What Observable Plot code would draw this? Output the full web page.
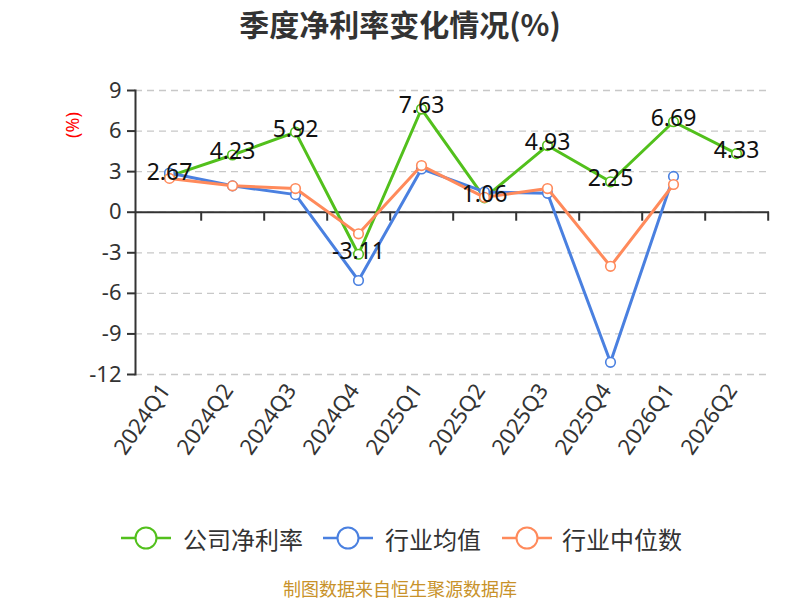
<!DOCTYPE html>
<html>
<head>
<meta charset="utf-8">
<script src="https://cdn.jsdelivr.net/npm/d3@7"></script>
<script src="https://cdn.jsdelivr.net/npm/@observablehq/plot@0.6"></script>
<style>
  body { margin: 0; background: #fff; }
  #wrap { position: relative; width: 800px; height: 600px; overflow: hidden;
          font-family: "Noto Sans", "Noto Sans CJK SC", sans-serif; }
  #title { position: absolute; top: 3px; left: 0; width: 800px; height: 40px; line-height: 40px; text-align: center;
           font-size: 30px; font-weight: bold; color: #333; font-family: "Noto Sans CJK SC", sans-serif; }
  #chart { position: absolute; top: 50px; left: 0; }
  #ylab { position: absolute; left: 52px; top: 114px; width: 40px; height: 22px; line-height: 22px; text-align: center;
          transform: rotate(-90deg); color: red; font-size: 18px; }
  #legend { position: absolute; top: 520px; left: 0; width: 800px; height: 36px; }
  #footer { position: absolute; top: 577px; left: 0; width: 800px; height: 22px; line-height: 22px; text-align: center;
            font-size: 18px; color: #c8922a; font-family: "Noto Sans CJK SC", sans-serif; }
</style>
</head>
<body>
<div id="wrap">
  <div id="title">季度净利率变化情况(%)</div>
  <div id="chart"></div>
  <div id="ylab">(%)</div>
  <div id="legend"></div>
  <div id="footer">制图数据来自恒生聚源数据库</div>
</div>
<script>
const quarters = ["2024Q1","2024Q2","2024Q3","2024Q4","2025Q1","2025Q2","2025Q3","2025Q4","2026Q1","2026Q2"];
const companyRate = [2.67, 4.23, 5.92, -3.11, 7.63, 1.06, 4.93, 2.25, 6.69, 4.33];
const industryAvg = [2.9, 1.95, 1.3, -5.05, 3.2, 1.5, 1.4, -11.1, 2.65, null];
const industryMedian = [2.5, 1.95, 1.75, -1.6, 3.45, 1.1, 1.75, -4.0, 2.05, null];
const yTicks = [-12, -9, -6, -3, 0, 3, 6, 9];
const seriesNames = ["公司净利率", "行业均值", "行业中位数"];
const seriesColors = ["#52c01c", "#4a80e0", "#ff8a5b"];

const toRows = (vals, name) => quarters.map((q, i) => ({q, v: vals[i], s: name}));
const rowsC = toRows(companyRate, seriesNames[0]);
const rowsA = toRows(industryAvg, seriesNames[1]).filter(d => d.v != null);
const rowsM = toRows(industryMedian, seriesNames[2]).filter(d => d.v != null);

const W = 800, H = 450, mL = 135, mR = 31, mT = 40, mB = 126;
const step = (W - mL - mR) / quarters.length;
const font = "Noto Sans, Noto Sans CJK SC, sans-serif";

const lineDot = (rows, color) => [
  Plot.line(rows, {x: "q", y: "v", stroke: color, strokeWidth: 3}),
  Plot.dot(rows, {x: "q", y: "v", r: 4.8, fill: "white", stroke: color, strokeWidth: 1.6})
];

const chart = Plot.plot({
  width: W, height: H,
  marginLeft: mL, marginRight: mR, marginTop: mT, marginBottom: mB,
  style: {fontFamily: font, background: "transparent", overflow: "visible"},
  x: {type: "point", domain: quarters, padding: 0.5, align: 0.5},
  y: {domain: [-12, 9]},
  marks: [
    Plot.gridY(yTicks, {stroke: "#c8c8c8", strokeOpacity: 1, strokeDasharray: "7,5", strokeWidth: 1.3}),
    Plot.axisY(yTicks, {tickSize: 8, tickPadding: 6, fontSize: 22, fill: "#333", stroke: "#333", strokeWidth: 2, label: null, tickFormat: d => String(d)}),
    Plot.axisX({anchor: "bottom", tickSize: 0, tickPadding: 12, tickRotate: -55, fontSize: 22, fill: "#333", label: null, dx: -4}),
    Plot.frame({anchor: "left", stroke: "#333", strokeWidth: 2}),
    Plot.ruleY([0], {stroke: "#333", strokeWidth: 2}),
    Plot.ruleX(quarters, {x: d => d, y1: 0, y2: 0, dx: step / 2, insetBottom: -9, stroke: "#333", strokeWidth: 2}),
    ...lineDot(rowsC, seriesColors[0]),
    ...lineDot(rowsA, seriesColors[1]),
    ...lineDot(rowsM, seriesColors[2]),
    Plot.text(rowsC, {x: "q", y: "v", text: d => d.v.toFixed(2), dy: -3, fontSize: 23, fill: "#111"})
  ]
});
document.getElementById("chart").appendChild(chart);

// legend
const legendItems = [
  {x: 121, tx: 183},
  {x: 323, tx: 385},
  {x: 502, tx: 562}
];
let lg = `<svg width="800" height="36" xmlns="http://www.w3.org/2000/svg" style="font-family:'Noto Sans CJK SC',sans-serif">`;
legendItems.forEach((it, i) => {
  const c = seriesColors[i];
  lg += `<line x1="${it.x}" x2="${it.x + 50}" y1="18" y2="18" stroke="${c}" stroke-width="2.5"/>`;
  lg += `<circle cx="${it.x + 25}" cy="18" r="10.5" fill="white" stroke="${c}" stroke-width="2"/>`;
  lg += `<text x="${it.tx}" y="18" dominant-baseline="central" font-size="24" fill="#333">${seriesNames[i]}</text>`;
});
lg += `</svg>`;
document.getElementById("legend").innerHTML = lg;
</script>
</body>
</html>
